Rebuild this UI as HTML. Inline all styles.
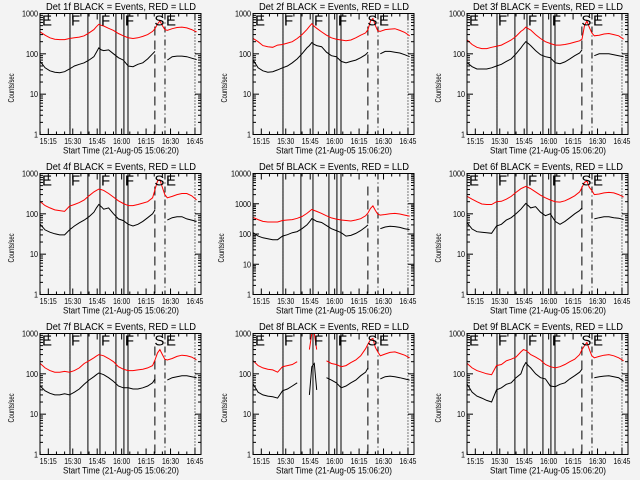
<!DOCTYPE html>
<html><head><meta charset="utf-8"><style>
html,body{margin:0;padding:0;background:#f3f3f3;}
svg{display:block;font-family:"Liberation Sans",sans-serif;}
</style></head><body>
<svg id="chart" width="640" height="480" viewBox="0 0 640 480" xmlns="http://www.w3.org/2000/svg">
<rect x="0" y="0" width="640" height="480" fill="#f3f3f3"/>
</svg>
<script>
// time grid in minutes after 15:00
const times = [10,13,16,19,22,25,28,31,34,37,40,43,44.5,46,47.5,49,52,55,58,61,64,67,70,73,76,79,80.5,82,83.5,85,86.5,88,91,94,97,100,103,106];
const n = null;
const p1Red = [350,290,250,230,225,225,240,250,260,280,330,400,470,540,510,490,430,380,320,280,250,240,250,270,300,360,420,550,650,500,400,380,420,450,460,440,400,350];
const p1Blk = [65,45,38,35,34,36,42,50,55,60,70,85,110,140,125,120,125,100,80,70,50,48,55,60,75,100,115,n,n,n,n,70,85,88,88,85,78,72];
const p2Red = [240,200,160,150,145,165,170,185,200,240,300,400,480,560,480,430,350,290,250,230,220,210,220,250,290,330,400,650,750,500,370,360,400,410,420,380,340,280];
const p2Blk = [70,45,38,35,36,40,45,50,60,75,100,140,160,190,170,160,150,110,90,85,65,60,65,70,80,95,110,n,n,n,n,100,115,115,110,105,95,85];
const p3Red = [220,170,145,135,135,145,155,165,190,220,270,360,400,460,420,390,300,240,200,180,165,165,170,180,195,210,230,500,650,450,330,280,290,310,320,300,280,230];
const p3Blk = [60,48,42,42,42,45,50,55,65,75,100,140,170,200,180,160,120,95,85,80,60,57,63,75,90,105,125,n,n,n,n,90,100,100,100,95,90,85];
const p4Red = [200,160,140,125,120,115,155,170,190,220,280,350,380,410,400,380,320,260,210,180,160,160,170,185,200,250,400,650,700,450,300,250,270,300,320,320,280,220];
const p4Blk = [55,40,35,32,30,30,40,50,60,70,85,110,140,170,150,130,140,100,75,68,55,50,55,65,80,100,125,n,n,n,n,70,80,85,85,75,70,65];
const p5Red = [350,300,260,250,250,250,280,290,300,330,380,480,560,650,600,560,480,400,340,310,290,280,270,290,320,400,500,700,850,600,450,420,440,470,480,460,420,390];
const p5Blk = [110,85,75,70,65,65,85,95,110,120,150,200,250,320,290,260,240,190,150,130,110,85,90,105,130,170,200,n,n,n,n,150,170,180,175,165,150,140];
const p6Red = [270,230,200,175,170,170,200,205,230,270,340,420,450,480,450,420,350,290,250,220,200,195,210,240,280,350,450,600,650,450,380,300,310,330,340,330,300,260];
const p6Blk = [60,42,36,35,34,33,50,55,70,80,100,130,155,180,160,140,150,110,90,100,65,55,65,80,100,120,140,n,n,n,n,75,80,85,85,80,78,72];
const p7Red = [180,140,120,110,110,115,110,120,140,180,210,250,275,300,290,280,240,200,150,130,120,120,125,130,140,160,220,330,400,300,230,220,240,270,290,280,260,220];
const p7Blk = [50,38,33,30,30,32,30,35,42,55,70,85,95,105,100,95,80,65,50,45,45,42,42,45,50,60,75,n,n,n,n,70,80,85,90,90,85,80];
const p8Red = [210,160,140,130,125,110,150,160,170,200,n,n,400,1000,1000,400,n,210,180,170,150,160,190,220,280,420,550,700,750,450,350,280,310,340,350,320,290,250];
const p8Blk = [55,35,30,28,27,25,38,42,50,60,n,n,30,150,180,40,n,80,70,60,45,50,60,70,90,110,140,n,n,n,n,75,85,88,85,80,75,70];
const p9Red = [180,140,120,110,100,95,160,170,210,230,260,350,400,380,340,300,260,220,170,150,140,150,170,200,230,300,400,500,600,400,280,250,270,290,300,280,250,210];
const p9Blk = [55,35,28,25,22,20,40,45,55,60,80,100,150,190,160,140,100,80,75,50,48,55,60,75,90,110,130,n,n,n,n,80,85,88,90,85,80,65];
const detNames = ["1f","2f","3f","4f","5f","6f","7f","8f","9f"];
const redSeries = [p1Red,p2Red,p3Red,p4Red,p5Red,p6Red,p7Red,p8Red,p9Red];
const blackSeries = [p1Blk,p2Blk,p3Blk,p4Blk,p5Blk,p6Blk,p7Blk,p8Blk,p9Blk];
const yTopDecades = [3,3,3,3,4,3,3,3,3];
const xTickMinutes = [15,30,45,60,75,90,105];
const xTickLabels = ["15:15","15:30","15:45","16:00","16:15","16:30","16:45"];
const solidLineTimes = [28.3,39.3,46.7,56.5,61.4,63.9];
const dashedLineTime = 80.4;
const dashDotLineTime = 86.6;
const dottedLineTimes = [28.3,105];
const markerLetters = ["E","F","F","F","S","E"];
const markerTimes = [10.5,28.3,46.7,61.4,79.5,86.6];

const NS = "http://www.w3.org/2000/svg";
const svg = document.getElementById("chart");
const colLeft = [40,253,467];
const PW = 161, XMIN = 9.9, XMAX = 108.7;

function mk(tag, attrs, parent){
  const e = document.createElementNS(NS, tag);
  for (const k in attrs) e.setAttribute(k, attrs[k]);
  (parent||svg).appendChild(e);
  return e;
}

for (let p = 0; p < 9; p++){
  const col = p % 3, row = Math.floor(p / 3);
  const L = colLeft[col], T = row*160 + 13.5, B = row*160 + 134.5, R = L + PW;
  const top = yTopDecades[p];
  const xs = t => L + (t - XMIN) / (XMAX - XMIN) * PW;
  const ys = v => B - Math.log10(v) / top * (B - T);

  const g = mk("g", {});
  
  

  const cp = mk("clipPath", {id: "clip" + p}, g);
  mk("rect", {x: L, y: T, width: PW, height: B - T}, cp);

  const title = mk("text", {x: L + 81, y: row*160 + 10, "font-size": 10, "text-anchor": "middle", textLength: 150, lengthAdjust: "spacingAndGlyphs"}, g);
  title.textContent = "Det " + detNames[p] + " BLACK = Events, RED = LLD";
  
  

  solidLineTimes.forEach(t => {
    const l = mk("line", {x1: xs(t), x2: xs(t), y1: T, y2: B, stroke: "#000", "stroke-width": 1}, g);
    
    
  });
  const dl = mk("line", {x1: xs(dashedLineTime), x2: xs(dashedLineTime), y1: T + 13, y2: B, stroke: "#000", "stroke-width": 1, "stroke-dasharray": "9,5"}, g);
  
  
  const ddl = mk("line", {x1: xs(dashDotLineTime), x2: xs(dashDotLineTime), y1: T, y2: B, stroke: "#000", "stroke-width": 1, "stroke-dasharray": "6,3,1,3"}, g);
  
  
  dottedLineTimes.forEach(t => {
    const l = mk("line", {x1: xs(t), x2: xs(t), y1: T, y2: B, stroke: "#000", "stroke-width": 1, "stroke-dasharray": "1,2"}, g);
    
    
  });

  [[blackSeries[p], "#000", "events-series"], [redSeries[p], "#f00", "lld-series"]].forEach(([vals, color, name]) => {
    let d = "", pen = false;
    vals.forEach((v, i) => {
      if (v === null){ pen = false; return; }
      d += (pen ? "L" : "M") + xs(times[i]).toFixed(1) + " " + ys(v).toFixed(1) + " ";
      pen = true;
    });
    const path = mk("path", {d: d, fill: "none", stroke: color, "stroke-width": 1, "clip-path": "url(#clip" + p + ")"}, g);
    
    
  });

  if (top === 3){
    markerLetters.forEach((ch, i) => {
      const tx = mk("text", {x: xs(markerTimes[i]) + 1, y: T + 12, "font-size": 15}, g);
      tx.textContent = ch;
      
      
    });
  }

  const fr = mk("rect", {x: L, y: T, width: PW, height: B - T, fill: "none", stroke: "#000", "stroke-width": 1}, g);
  
  

  for (let dec = 0; dec <= top; dec++){
    const y = ys(Math.pow(10, dec));
    mk("line", {x1: L, x2: L + 6, y1: y, y2: y, stroke: "#000"}, g);
    mk("line", {x1: R, x2: R - 6, y1: y, y2: y, stroke: "#000"}, g);
    const txt = String(Math.pow(10, dec));
    const lab = mk("text", {x: L - 2, y: y + 3, "font-size": 8, "text-anchor": "end", textLength: txt.length * 4, lengthAdjust: "spacingAndGlyphs"}, g);
    lab.textContent = txt;
    
    
    if (dec < top){
      for (let m = 2; m <= 9; m++){
        const ym = ys(m * Math.pow(10, dec));
        mk("line", {x1: L, x2: L + 3, y1: ym, y2: ym, stroke: "#000"}, g);
        mk("line", {x1: R, x2: R - 3, y1: ym, y2: ym, stroke: "#000"}, g);
      }
    }
  }
  const ylx = L - (top === 4 ? 29 : 26);
  const yl = mk("text", {x: 0, y: 0, "font-size": 8.5, "text-anchor": "middle", textLength: 29, lengthAdjust: "spacingAndGlyphs", transform: "translate(" + ylx + "," + ((T + B) / 2 + 14) + ") rotate(-90)"}, g);
  yl.textContent = "Counts/sec";
  
  

  for (let t = 10; t <= 108; t += 5){
    const x = xs(t), major = xTickMinutes.indexOf(t) >= 0;
    const len = major ? 6 : 3;
    mk("line", {x1: x, x2: x, y1: B, y2: B - len, stroke: "#000"}, g);
    mk("line", {x1: x, x2: x, y1: T, y2: T + len, stroke: "#000"}, g);
  }
  xTickMinutes.forEach((t, i) => {
    const lab = mk("text", {x: xs(t), y: B + 9.5, "font-size": 8, "text-anchor": "middle", textLength: 17, lengthAdjust: "spacingAndGlyphs"}, g);
    lab.textContent = xTickLabels[i];
    
    
  });
  const xl = mk("text", {x: L + 81, y: B + 19, "font-size": 9, "text-anchor": "middle", textLength: 116, lengthAdjust: "spacingAndGlyphs"}, g);
  xl.textContent = "Start Time (21-Aug-05 15:06:20)";
  
  
}
</script>
</body></html>
